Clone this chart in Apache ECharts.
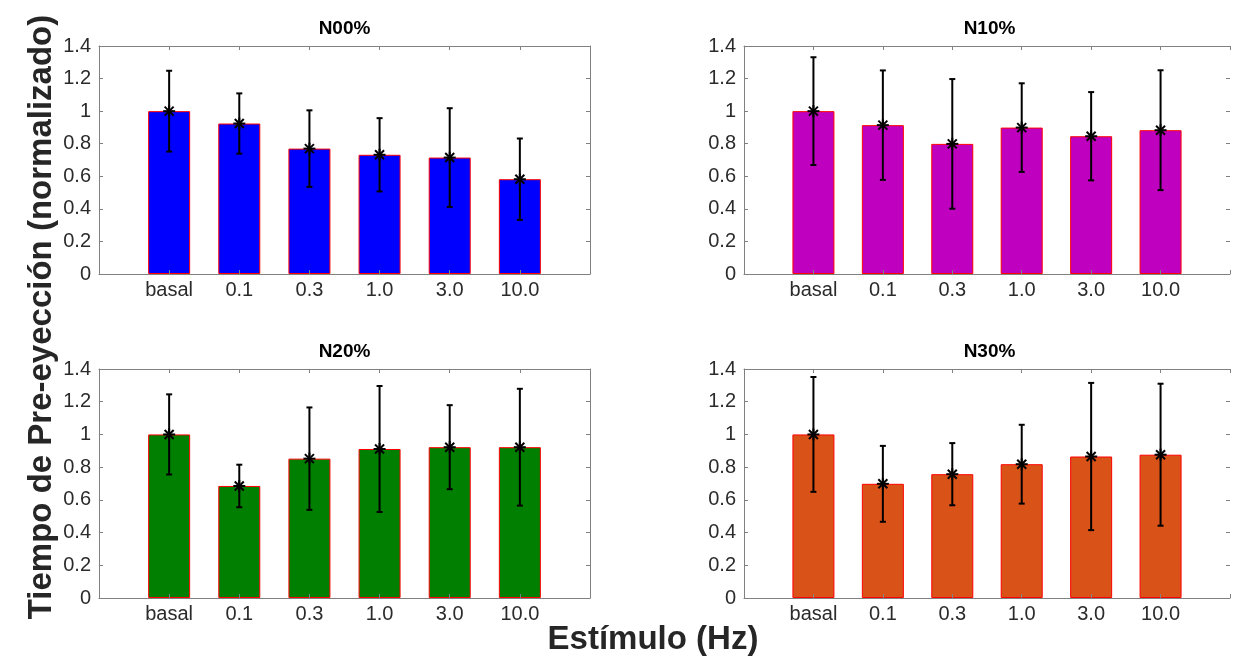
<!DOCTYPE html>
<html>
<head>
<meta charset="utf-8">
<title>Tiempo de Pre-eyección</title>
<script src="https://cdn.jsdelivr.net/npm/echarts@6/dist/echarts.min.js"></script>
<style>
  html, body { margin: 0; padding: 0; background: #fff; }
  #chart { width: 1233px; height: 671px; }
</style>
</head>
<body>
<div id="chart"></div>
<script>
// Stimulus frequencies (Hz) shown on each x axis
const categories = ['basal', '0.1', '0.3', '1.0', '3.0', '10.0'];
const panelTitles = ['N00%', 'N10%', 'N20%', 'N30%'];

// Normalised pre-ejection time: mean and error per stimulus
const meanN00 = [1.00, 0.924, 0.770, 0.732, 0.715, 0.582];
const errN00  = [0.248, 0.185, 0.235, 0.225, 0.303, 0.250];
const meanN10 = [1.00, 0.914, 0.799, 0.899, 0.846, 0.883];
const errN10  = [0.331, 0.336, 0.398, 0.272, 0.271, 0.368];
const meanN20 = [1.00, 0.685, 0.852, 0.911, 0.922, 0.922];
const errN20  = [0.245, 0.130, 0.313, 0.385, 0.257, 0.357];
const meanN30 = [1.00, 0.698, 0.757, 0.818, 0.865, 0.876];
const errN30  = [0.351, 0.232, 0.190, 0.241, 0.450, 0.434];

const panels = [
  { title: panelTitles[0], mean: meanN00, err: errN00, color: '#0000ff' },
  { title: panelTitles[1], mean: meanN10, err: errN10, color: '#bf00bf' },
  { title: panelTitles[2], mean: meanN20, err: errN20, color: '#007f00' },
  { title: panelTitles[3], mean: meanN30, err: errN30, color: '#d95319' }
];

const FONT = '"Liberation Sans", Arial, Helvetica, sans-serif';
const AXIS_GRAY = '#808080';
const TEXT_GRAY = '#2b2b2b';

// Axes boxes (2x2 layout); the right column's right edge falls just past the canvas
const boxes = [
  { left: 99,  top: 46,  width: 491, height: 228, rightEdge: true },
  { left: 744, top: 46,  width: 490, height: 228, rightEdge: false },
  { left: 99,  top: 369, width: 491, height: 229, rightEdge: true },
  { left: 744, top: 369, width: 490, height: 229, rightEdge: false }
];

const grid = [], xAxis = [], yAxis = [], series = [], graphic = [];

panels.forEach((p, k) => {
  const b = boxes[k];
  grid.push({ left: b.left, top: b.top, width: b.width, height: b.height, show: false });

  const line = show => ({ show, onZero: false, lineStyle: { color: AXIS_GRAY, width: 1 } });
  const tick = { show: true, inside: true, length: 4, lineStyle: { color: AXIS_GRAY } };

  const xBase = {
    gridIndex: k, type: 'value', min: 0, max: 7, interval: 1, z: 3,
    splitLine: { show: false }, axisTick: tick
  };
  // bottom axis carries the frequency labels
  xAxis.push(Object.assign({}, xBase, {
    position: 'bottom', axisLine: line(true),
    axisLabel: {
      show: true, margin: 6, color: TEXT_GRAY, fontFamily: FONT, fontSize: 20,
      formatter: v => categories[Math.round(v) - 1] || ''
    }
  }));
  // mirrored top axis: frame line and ticks only
  xAxis.push(Object.assign({}, xBase, { position: 'top', axisLine: line(true), axisLabel: { show: false } }));

  const yBase = {
    gridIndex: k, type: 'value', min: 0, max: 1.4, interval: 0.2, z: 3,
    splitLine: { show: false }, axisTick: tick
  };
  yAxis.push(Object.assign({}, yBase, {
    position: 'left', axisLine: line(true),
    axisLabel: {
      show: true, margin: 8, color: TEXT_GRAY, fontFamily: FONT, fontSize: 20,
      formatter: v => String(Math.round(v * 10) / 10)
    }
  }));
  yAxis.push(Object.assign({}, yBase, {
    position: 'right', axisLine: line(b.rightEdge), axisLabel: { show: false }
  }));

  const xi = k * 2, yi = k * 2;

  series.push({
    type: 'bar',
    xAxisIndex: xi, yAxisIndex: yi,
    barWidth: 42,
    itemStyle: { color: p.color, borderColor: '#ff0000', borderWidth: 1 },
    data: p.mean.map((m, i) => [i + 1, m]),
    silent: true, animation: false
  });

  series.push({
    type: 'custom',
    xAxisIndex: xi, yAxisIndex: yi,
    z: 5, animation: false, silent: true,
    data: p.mean.map((m, i) => [i + 1, m, p.err[i]]),
    encode: { x: 0, y: 1 },
    renderItem: (params, api) => {
      const x = api.value(0), m = api.value(1), e = api.value(2);
      const hi = api.coord([x, m + e]);
      const lo = api.coord([x, m - e]);
      const c = api.coord([x, m]);
      const cap = 3, s = 6, d = 4.5;
      const stroke = { stroke: '#000', lineWidth: 2 };
      const star = { stroke: '#000', lineWidth: 2 };
      return {
        type: 'group',
        children: [
          { type: 'line', shape: { x1: hi[0], y1: hi[1], x2: lo[0], y2: lo[1] }, style: stroke },
          { type: 'line', shape: { x1: hi[0] - cap, y1: hi[1], x2: hi[0] + cap, y2: hi[1] }, style: stroke },
          { type: 'line', shape: { x1: lo[0] - cap, y1: lo[1], x2: lo[0] + cap, y2: lo[1] }, style: stroke },
          { type: 'line', shape: { x1: c[0] - s, y1: c[1], x2: c[0] + s, y2: c[1] }, style: star },
          { type: 'line', shape: { x1: c[0], y1: c[1] - s, x2: c[0], y2: c[1] + s }, style: star },
          { type: 'line', shape: { x1: c[0] - d, y1: c[1] - d, x2: c[0] + d, y2: c[1] + d }, style: star },
          { type: 'line', shape: { x1: c[0] - d, y1: c[1] + d, x2: c[0] + d, y2: c[1] - d }, style: star }
        ]
      };
    }
  });

  // panel title centred above each box
  graphic.push({
    type: 'text',
    x: b.left + 491 / 2, y: b.top - 17,
    style: {
      text: p.title, font: 'bold 19px ' + FONT, fill: '#000',
      textAlign: 'center', textVerticalAlign: 'middle'
    }
  });
});

// shared axis titles
graphic.push({
  type: 'text', x: 42, y: 317, rotation: Math.PI / 2,
  style: {
    text: 'Tiempo de Pre-eyección (normalizado)', font: 'bold 33px ' + FONT, fill: '#262626',
    textAlign: 'center', textVerticalAlign: 'middle'
  }
});
graphic.push({
  type: 'text', x: 653, y: 640,
  style: {
    text: 'Estímulo (Hz)', font: 'bold 33px ' + FONT, fill: '#262626',
    textAlign: 'center', textVerticalAlign: 'middle'
  }
});

const chart = echarts.init(document.getElementById('chart'), null, { renderer: 'canvas' });
chart.setOption({
  animation: false,
  backgroundColor: '#ffffff',
  grid, xAxis, yAxis, series, graphic
});
</script>
</body>
</html>
